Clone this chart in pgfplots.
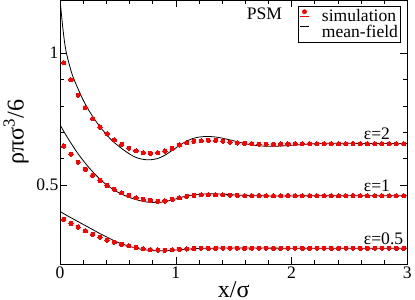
\documentclass[border=0pt]{standalone}
\usepackage{fontspec}
\setmainfont{Liberation Serif}
\usepackage{pgfplots}
\pgfplotsset{compat=1.18}
\begin{document}
\begin{tikzpicture}
\begin{axis}[
  scale only axis, width=346pt, height=263pt,
  xmin=0, xmax=3, ymin=0.2, ymax=1.2,
  xtick={0,1,2,3}, ytick={0.5,1},
  minor x tick num=4, minor y tick num=4,
  tick align=inside, tick pos=both,
  major tick length=7pt, minor tick length=4pt,
  every tick/.style={black, line width=0.6pt},
  axis line style={line width=0.8pt},
  /pgf/number format/assume math mode=true,
  tick label style={font=\fontsize{17.5}{18}\selectfont},
  xticklabel style={anchor=base, yshift=-14pt},
  yticklabel style={anchor=east, inner sep=0pt, xshift=-1.5pt},
  xlabel={x/σ}, ylabel={ρπσ\textsuperscript{3}/6},
  label style={font=\fontsize{24}{26}\selectfont},
  xlabel style={at={(rel axis cs:0.5,0)}, anchor=base, yshift=-33.5pt, inner sep=1pt},
  ylabel style={at={(axis description cs:-0.127,0.5)}, anchor=center},
  legend style={at={(rel axis cs:1,1)}, anchor=north east, xshift=-7pt, yshift=-6pt,
    draw=black, line width=0.5pt, inner sep=1.5pt, column sep=12pt,
    font=\fontsize{17.5}{18}\selectfont,
    nodes={inner sep=0.5pt, text height=12.5pt, text depth=2.5pt}},
  legend cell align=left,
]
\addplot[red, only marks, mark=*, mark size=2.1pt, mark options={draw=red, fill=red, line width=0pt},
  legend image code/.code={\path (0pt,0pt)--(9pt,0pt); \fill[red] (4.5pt,4.5pt) circle (2.1pt);}]
coordinates {
(0.031,0.964)(0.094,0.899)(0.156,0.841)(0.219,0.794)(0.281,0.752)(0.344,0.720)
(0.406,0.694)(0.469,0.671)(0.531,0.654)(0.594,0.640)(0.656,0.630)(0.719,0.623)
(0.781,0.621)(0.844,0.623)(0.906,0.629)(0.969,0.639)(1.031,0.652)(1.094,0.661)
(1.156,0.666)(1.219,0.668)(1.281,0.670)(1.344,0.670)(1.406,0.667)(1.469,0.663)
(1.531,0.660)(1.594,0.659)(1.656,0.657)(1.719,0.655)(1.781,0.655)(1.844,0.655)
(1.906,0.656)(1.969,0.656)(2.031,0.657)(2.094,0.657)(2.156,0.657)(2.219,0.657)
(2.281,0.657)(2.344,0.657)(2.406,0.657)(2.469,0.657)(2.531,0.657)(2.594,0.657)
(2.656,0.657)(2.719,0.657)(2.781,0.657)(2.844,0.657)(2.906,0.657)(2.969,0.657)
};
\addlegendentry{simulation}
\addplot[black, line width=0.8pt, smooth,
  legend image code/.code={\draw[black, line width=0.8pt] (0pt,6pt)--(9pt,6pt);}]
coordinates {
(0,1.200)(0.025,1.090)(0.05,1.010)(0.1,0.925)(0.15,0.870)(0.2,0.822)(0.25,0.782)
(0.3,0.748)(0.35,0.718)(0.4,0.692)(0.45,0.668)(0.5,0.650)(0.55,0.633)(0.6,0.618)
(0.65,0.606)(0.7,0.599)(0.75,0.596)(0.8,0.597)(0.85,0.602)(0.9,0.612)(0.95,0.626)
(1.0,0.641)(1.05,0.656)(1.1,0.668)(1.15,0.677)(1.2,0.682)(1.25,0.684)(1.3,0.684)
(1.35,0.682)(1.4,0.678)(1.5,0.668)(1.6,0.657)(1.7,0.650)(1.8,0.647)(1.9,0.648)
(2.0,0.651)(2.1,0.654)(2.2,0.657)(2.4,0.659)(2.6,0.658)(2.8,0.658)(3.0,0.658)
};
\addlegendentry{mean-field}
\addplot[forget plot, red, only marks, mark=*, mark size=2.1pt, mark options={draw=red, fill=red, line width=0pt}]
coordinates {
(0.031,0.648)(0.094,0.617)(0.156,0.587)(0.219,0.560)(0.281,0.537)(0.344,0.518)
(0.406,0.499)(0.469,0.484)(0.531,0.471)(0.594,0.461)(0.656,0.452)(0.719,0.446)
(0.781,0.442)(0.844,0.439)(0.906,0.440)(0.969,0.446)(1.031,0.452)(1.094,0.458)
(1.156,0.461)(1.219,0.463)(1.281,0.464)(1.344,0.463)(1.406,0.463)(1.469,0.462)
(1.531,0.461)(1.594,0.460)(1.656,0.460)(1.719,0.460)(1.781,0.460)(1.844,0.460)
(1.906,0.460)(1.969,0.460)(2.031,0.460)(2.094,0.460)(2.156,0.460)(2.219,0.460)
(2.281,0.460)(2.344,0.460)(2.406,0.460)(2.469,0.460)(2.531,0.460)(2.594,0.460)
(2.656,0.460)(2.719,0.460)(2.781,0.460)(2.844,0.460)(2.906,0.460)(2.969,0.460)
};
\addplot[forget plot, black, line width=0.8pt, smooth]
coordinates {
(0,0.728)(0.05,0.690)(0.1,0.655)(0.15,0.622)(0.2,0.593)(0.25,0.566)(0.3,0.542)
(0.35,0.520)(0.4,0.502)(0.45,0.486)(0.5,0.473)(0.55,0.462)(0.6,0.453)(0.65,0.446)
(0.7,0.440)(0.75,0.436)(0.8,0.434)(0.85,0.434)(0.9,0.437)(0.95,0.442)(1.0,0.448)
(1.05,0.454)(1.1,0.459)(1.2,0.465)(1.3,0.467)(1.4,0.466)(1.5,0.463)(1.6,0.461)
(1.8,0.459)(2.0,0.459)(2.2,0.460)(2.6,0.460)(3.0,0.460)
};
\addplot[forget plot, red, only marks, mark=*, mark size=2.1pt, mark options={draw=red, fill=red, line width=0pt}]
coordinates {
(0.031,0.370)(0.094,0.355)(0.156,0.341)(0.219,0.327)(0.281,0.314)(0.344,0.303)
(0.406,0.292)(0.469,0.284)(0.531,0.276)(0.594,0.270)(0.656,0.264)(0.719,0.259)
(0.781,0.256)(0.844,0.254)(0.906,0.253)(0.969,0.255)(1.031,0.257)(1.094,0.258)
(1.156,0.260)(1.219,0.261)(1.281,0.261)(1.344,0.261)(1.406,0.261)(1.469,0.261)
(1.531,0.261)(1.594,0.261)(1.656,0.261)(1.719,0.261)(1.781,0.261)(1.844,0.261)
(1.906,0.261)(1.969,0.261)(2.031,0.261)(2.094,0.261)(2.156,0.261)(2.219,0.261)
(2.281,0.261)(2.344,0.261)(2.406,0.261)(2.469,0.261)(2.531,0.261)(2.594,0.261)
(2.656,0.261)(2.719,0.261)(2.781,0.261)(2.844,0.261)(2.906,0.261)(2.969,0.261)
};
\addplot[forget plot, black, line width=0.8pt, smooth]
coordinates {
(0,0.400)(0.05,0.387)(0.1,0.375)(0.15,0.363)(0.2,0.351)(0.25,0.339)(0.3,0.327)
(0.35,0.315)(0.4,0.304)(0.45,0.293)(0.5,0.283)(0.55,0.275)(0.6,0.268)(0.65,0.262)
(0.7,0.257)(0.75,0.254)(0.8,0.252)(0.85,0.251)(0.9,0.252)(1.0,0.254)(1.1,0.257)
(1.2,0.260)(1.3,0.261)(1.5,0.262)(2.0,0.261)(3.0,0.261)
};
\node[anchor=base, inner sep=0pt, font=\fontsize{17.5}{18}\selectfont] at (axis cs:1.765,1.128) {PSM};
\node[anchor=base west, inner sep=0pt, font=\fontsize{17.5}{18}\selectfont] at (axis cs:2.624,0.671) {ε=2};
\node[anchor=base west, inner sep=0pt, font=\fontsize{17.5}{18}\selectfont] at (axis cs:2.624,0.477) {ε=1};
\node[anchor=base west, inner sep=0pt, font=\fontsize{17.5}{18}\selectfont] at (axis cs:2.624,0.275) {ε=0.5};
\end{axis}
\end{tikzpicture}
\end{document}
